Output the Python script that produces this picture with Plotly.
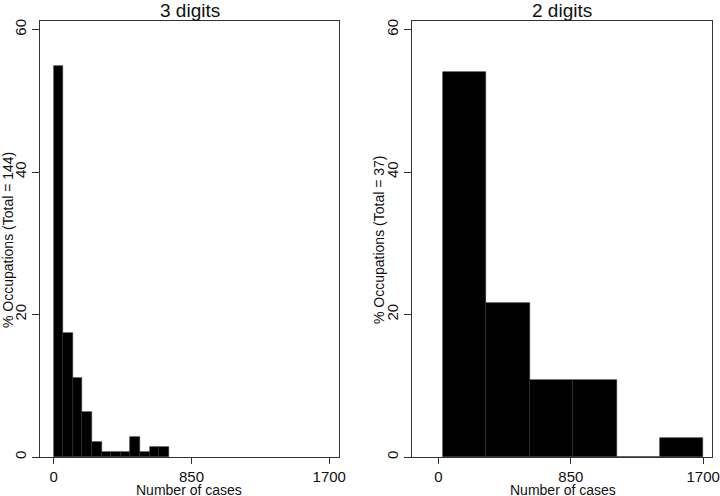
import plotly.graph_objects as go

# Left panel: 3 digits (Total = 144), 12 bins
left_counts = [79, 25, 16, 9, 3, 1, 1, 1, 4, 1, 2, 2]
left_total = 144
left_start = 0
left_width = 59.1

# Right panel: 2 digits (Total = 37), 6 bins
right_counts = [20, 8, 4, 4, 0, 1]
right_total = 37
right_start = 28
right_width = 279

titles = ["3 digits", "2 digits"]
ytitles = ["% Occupations (Total = 144)", "% Occupations (Total = 37)"]
xtitle = "Number of cases"
xticks = [0, 850, 1700]
yticks = [0, 20, 40, 60]

FONT = "Liberation Sans, Arial, sans-serif"

def centers(start, width, n):
    return [start + width * (i + 0.5) for i in range(n)]

def pct(counts, total):
    return [100.0 * c / total for c in counts]

fig = go.Figure()
fig.add_trace(go.Bar(
    x=centers(left_start, left_width, len(left_counts)),
    y=pct(left_counts, left_total),
    width=[left_width] * len(left_counts),
    marker=dict(color="black", line=dict(color="#2a2a2a", width=0.6)),
    xaxis="x", yaxis="y", showlegend=False,
))
fig.add_trace(go.Bar(
    x=centers(right_start, right_width, len(right_counts)),
    y=pct(right_counts, right_total),
    width=[right_width] * len(right_counts),
    marker=dict(color="black", line=dict(color="#2a2a2a", width=0.6)),
    xaxis="x2", yaxis="y2", showlegend=False,
))

W, H = 720, 496
ml, mr, mt, mb = 40, 8, 21, 39
pw = W - ml - mr
ph = H - mt - mb
d1 = [0, (339 - 40) / pw]
d2 = [(412 - 40) / pw, 1]

axis_common = dict(
    showline=True, mirror=True, linecolor="#333", linewidth=1,
    showgrid=False, zeroline=False, ticks="outside", tickcolor="#333",
    tickfont=dict(family=FONT, size=15, color="#111"), automargin=False,
)

fig.update_layout(
    width=W, height=H,
    margin=dict(l=ml, r=mr, t=mt, b=mb, autoexpand=False),
    paper_bgcolor="white", plot_bgcolor="white",
    bargap=0,
    xaxis=dict(domain=d1, range=[-84.5, 1760], tickvals=xticks, ticklen=6, anchor="y", **axis_common),
    yaxis=dict(domain=[0, 1], range=[0, 61.2], tickvals=yticks, ticklen=7, tickangle=-90, anchor="x", **axis_common),
    xaxis2=dict(domain=d2, range=[-170, 1757], tickvals=xticks, ticklen=6, anchor="y2", **axis_common),
    yaxis2=dict(domain=[0, 1], range=[0, 61.2], tickvals=yticks, ticklen=7, tickangle=-90, anchor="x2", **axis_common),
)

def px_x(px):
    return (px - ml) / pw

def px_y(py):
    return (H - mb - py) / ph

annotations = []
for title, cx in zip(titles, [189.5, 562]):
    annotations.append(dict(text=title, x=px_x(cx), y=px_y(10), xref="paper", yref="paper",
                            xanchor="center", yanchor="middle", showarrow=False,
                            font=dict(family=FONT, size=19, color="#111")))
for cx in [189, 562.5]:
    annotations.append(dict(text=xtitle, x=px_x(cx), y=px_y(490), xref="paper", yref="paper",
                            xanchor="center", yanchor="middle", showarrow=False,
                            font=dict(family=FONT, size=14, color="#111")))
for t, cx in zip(ytitles, [8, 379]):
    annotations.append(dict(text=t, x=px_x(cx), y=px_y(240), xref="paper", yref="paper",
                            xanchor="center", yanchor="middle", textangle=-90, showarrow=False,
                            font=dict(family=FONT, size=14, color="#111")))
fig.update_layout(annotations=annotations)

fig.write_html("out.html", config={"displayModeBar": False},
               post_script="document.body.style.margin='0';document.body.style.overflow='hidden';")
